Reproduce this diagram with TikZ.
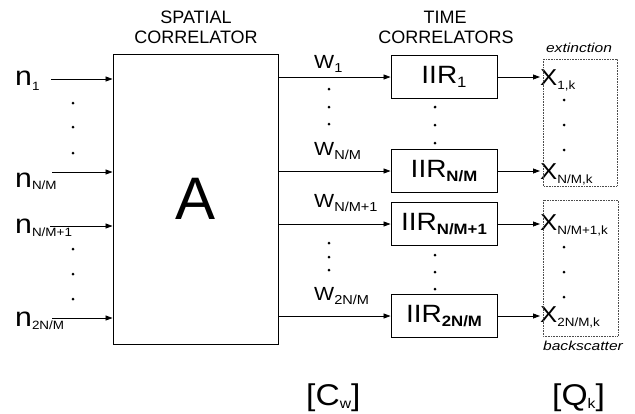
\documentclass[tikz,border=0pt]{standalone}
\usepackage{fontspec}
\setmainfont{Liberation Sans}
\newfontfamily\labelfont[FakeStretch=1.12]{Liberation Sans}
\newfontfamily\capfont[FakeStretch=1.2]{Liberation Sans}
\usetikzlibrary{arrows.meta}
\newcommand\lowsub[3]{\raisebox{-#1}{\fontsize{#2}{#2}\selectfont #3}}
\begin{document}
\begin{tikzpicture}[x=1pt,y=-1pt,
  box/.style={draw, line width=0.9pt, inner sep=0pt},
  iir/.style={box, minimum width=106pt, minimum height=43pt, font=\labelfont\fontsize{25}{25}\selectfont},
  arr/.style={-{Triangle[length=7pt,width=5pt]}, line width=0.8pt},
  dotmark/.style={circle, fill, inner sep=0pt, minimum size=3pt},
  lbl/.style={inner sep=0pt, anchor=base west},
  title/.style={inner sep=0pt, anchor=base, font=\fontsize{18}{18}\selectfont},
  grp/.style={draw=black!70, densely dotted, line width=0.6pt},
  note/.style={inner sep=0pt, anchor=base, font=\capfont\itshape\fontsize{13}{13}\selectfont}]
\useasboundingbox (0,0) rectangle (635,413);
% titles
\node[title] (t1) at (196,23) {SPATIAL};
\node[title] (t2) at (196,43) {CORRELATOR};
\node[title] (t3) at (445,23) {TIME};
\node[title] (t4) at (446,43) {CORRELATORS};
% spatial correlator
\node[box, minimum width=165pt, minimum height=290pt, font=\fontsize{60}{60}\selectfont] (A) at (195.5,199) {A};
% inputs
\node[lbl, font=\labelfont\fontsize{27}{27}\selectfont] (n1) at (15,85) {n\lowsub{5pt}{12}{1}};
\node[lbl, font=\labelfont\fontsize{27}{27}\selectfont] (n2) at (15,187) {n\lowsub{2pt}{12}{N/M}};
\node[lbl, font=\labelfont\fontsize{27}{27}\selectfont] (n3) at (15,233) {n\lowsub{3pt}{12}{N/M+1}};
\node[lbl, font=\labelfont\fontsize{27}{27}\selectfont] (n4) at (15,326) {n\lowsub{3pt}{12}{2N/M}};
\coordinate (i1) at (51,79);
\coordinate (i2) at (52,172);
\coordinate (i3) at (50,226);
\coordinate (i4) at (52,318);
\foreach \k in {1,2,3,4} \draw[arr] (i\k) -- (i\k -| A.west);
\foreach \y in {103,127,153,249,274,299} \node[dotmark] at (73,\y) {};
% IIR boxes
\node[iir] (I1) at (444,77) {IIR\lowsub{4pt}{15}{1}};
\node[iir] (I2) at (444,171) {IIR\lowsub{4pt}{15}{\bfseries N/M}};
\node[iir] (I3) at (444,224) {IIR\lowsub{4pt}{15}{\bfseries N/M+1}};
\node[iir] (I4) at (444,316) {IIR\lowsub{4pt}{15}{\bfseries 2N/M}};
\foreach \k in {1,2,3,4} \draw[arr] (A.east |- I\k.west) -- (I\k.west);
% w labels
\node[lbl, font=\labelfont\fontsize{19}{19}\selectfont] (w1) at (314,68) {W\lowsub{4pt}{13}{1}};
\node[lbl, font=\labelfont\fontsize{19}{19}\selectfont] (w2) at (314,155) {W\lowsub{4pt}{13}{N/M}};
\node[lbl, font=\labelfont\fontsize{19}{19}\selectfont] (w3) at (314,207) {W\lowsub{4pt}{13}{N/M+1}};
\node[lbl, font=\labelfont\fontsize{19}{19}\selectfont] (w4) at (314,300) {W\lowsub{4pt}{13}{2N/M}};
\foreach \y in {89,107,124,243,257,270} \node[dotmark] at (329,\y) {};
\foreach \y in {107,125,143,255,272,289} \node[dotmark] at (435,\y) {};
% outputs
\node[lbl, font=\labelfont\fontsize{23}{23}\selectfont] (x1) at (540,85) {X\lowsub{4pt}{12}{1,k}};
\node[lbl, font=\labelfont\fontsize{23}{23}\selectfont] (x2) at (540,179) {X\lowsub{4pt}{12}{N/M,k}};
\node[lbl, font=\labelfont\fontsize{23}{23}\selectfont] (x3) at (540,230) {X\lowsub{4pt}{12}{N/M+1,k}};
\node[lbl, font=\labelfont\fontsize{23}{23}\selectfont] (x4) at (540,322) {X\lowsub{4pt}{12}{2N/M,k}};
\foreach \k in {1,2,3,4} \draw[arr] (I\k.east) -- (I\k.east -| x\k.west);
\foreach \y in {100,125,150,247,272,297} \node[dotmark] at (564,\y) {};
% groups
\draw[grp] (543,59) rectangle (617,186);
\draw[grp] (543,200) rectangle (618,336);
\node[note] (ext) at (579,52) {extinction};
\node[note] (bsc) at (583,350) {backscatter};
% matrices
\node[lbl, font=\labelfont\fontsize{30}{30}\selectfont] (cw) at (306,405) {[C\lowsub{3pt}{14}{w}]};
\node[lbl, font=\labelfont\fontsize{30}{30}\selectfont] (qk) at (552,405) {[Q\lowsub{3pt}{14}{k}]};
\end{tikzpicture}
\end{document}
